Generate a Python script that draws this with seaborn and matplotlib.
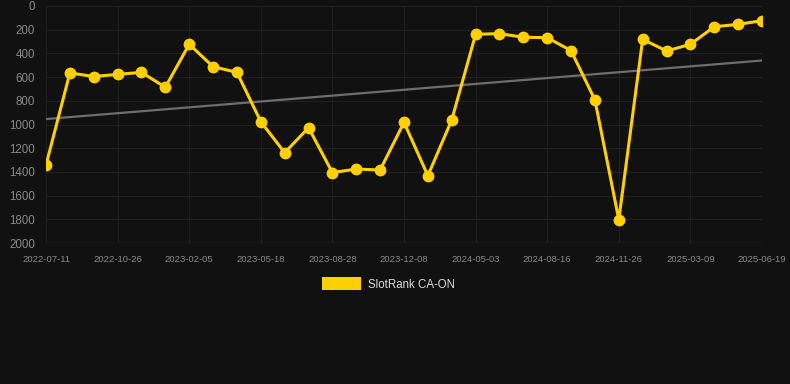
import numpy as np
import pandas as pd
import seaborn as sns
import matplotlib.pyplot as plt
from matplotlib.patches import Patch

# rank per observation (lower is better, axis inverted)
ranks = [1342, 565, 595, 577, 560, 686, 323, 512, 560, 976, 1238, 1027, 1406, 1376, 1384,
         982, 1432, 962, 239, 233, 264, 267, 377, 793, 1803, 281, 380, 323, 175, 155, 124]
tick_labels = ['2022-07-11', '2022-10-26', '2023-02-05', '2023-05-18', '2023-08-28', '2023-12-08',
               '2024-05-03', '2024-08-16', '2024-11-26', '2025-03-09', '2025-06-19']
y_ticks = [0, 200, 400, 600, 800, 1000, 1200, 1400, 1600, 1800, 2000]

df = pd.DataFrame({'idx': np.arange(len(ranks)), 'rank': ranks})

sns.set_style('dark')
plt.rcParams['font.family'] = ['Liberation Sans', 'DejaVu Sans']

fig = plt.figure(figsize=(7.9, 3.84), dpi=100, facecolor='#111111')
ax = fig.add_axes([46 / 790, 1 - 243 / 384, (762 - 46) / 790, (243 - 6) / 384])
ax.set_facecolor('#111111')

# linear trend
coef = np.polyfit(df['idx'], df['rank'], 1)
ax.plot(df['idx'], np.polyval(coef, df['idx']), color='#6e6e6e', lw=1.6, zorder=2)

sns.lineplot(data=df, x='idx', y='rank', ax=ax, color='#ffd000', lw=2.2,
             marker='o', markersize=8.5, markeredgewidth=0, zorder=3)

ax.set_xlim(0, len(ranks) - 1)
ax.set_ylim(2000, 0)
ax.set_xticks(np.arange(0, len(ranks), 3))
ax.set_xticklabels(tick_labels)
ax.set_yticks(y_ticks)
ax.set_xlabel('')
ax.set_ylabel('')
ax.grid(True, color='#202020', lw=0.8)
for s in ax.spines.values():
    s.set_visible(False)
ax.axhline(2000, color='#333333', lw=1, zorder=1)
ax.tick_params(axis='x', colors='#8a8a8a', labelsize=6.8, length=0, pad=9)
ax.tick_params(axis='y', colors='#8a8a8a', labelsize=8.3, length=0, pad=8)

fig.legend(handles=[Patch(facecolor='#ffd000', edgecolor='none')], labels=['SlotRank CA-ON'],
           loc='center', bbox_to_anchor=(0.492, 1 - 284 / 384), frameon=False,
           fontsize=8.3, labelcolor='#dddddd', handlelength=3.4, handleheight=1.3,
           handletextpad=0.6)

fig.savefig('out.png', dpi=100, facecolor='#111111')
